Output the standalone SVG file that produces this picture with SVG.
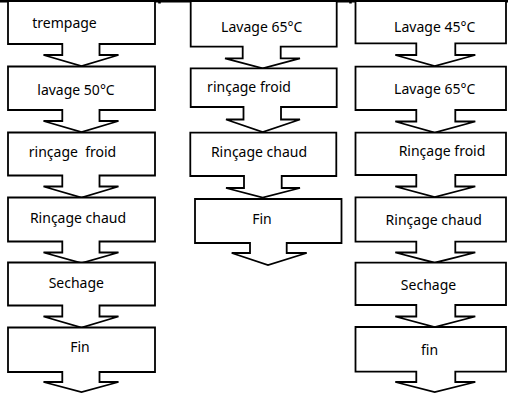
<svg xmlns="http://www.w3.org/2000/svg" width="508" height="393" viewBox="0 0 508 393">
<style>
.box{fill:#fff;stroke:#000;stroke-width:1.8;stroke-linejoin:miter}
.t{font-family:"Noto Sans","Open Sans","DejaVu Sans",sans-serif;font-size:14px;fill:#000;text-anchor:middle;white-space:pre}
.edge{stroke:#000;stroke-width:2.6}
</style>
<rect width="508" height="393" fill="#fff"/>
<g id="connectors">
<line class="edge" x1="0" y1="1.2" x2="508" y2="1.2"/>
<line class="edge" x1="159.5" y1="0" x2="159.5" y2="3.5" stroke-width="1.5"/>
<line class="edge" x1="350.5" y1="0" x2="350.5" y2="3.5" stroke-width="1.5"/>
</g>
<!-- Column 1 -->
<g id="c1n1"><path class="box" d="M8,1 H155 V44 H99.5 V55 H118.5 L81.5,66 L43.5,55 H62.3 V44 H8 Z"/><text class="t" x="64.5" y="28">trempage</text></g>
<g id="c1n2"><path class="box" d="M8,66.5 H155 V110 H99.5 V121 H118.5 L81.5,132 L43.5,121 H62.3 V110 H8 Z"/><text class="t" x="76" y="95">lavage 50°C</text></g>
<g id="c1n3"><path class="box" d="M8,132.5 H155 V175.5 H99.5 V186.5 H118.5 L81.5,197.5 L43.5,186.5 H62.3 V175.5 H8 Z"/><text class="t" x="72.5" y="157">rinçage  froid</text></g>
<g id="c1n4"><path class="box" d="M8,197.5 H155 V241.5 H99.5 V252.5 H118.5 L81.5,263 L43.5,252.5 H62.3 V241.5 H8 Z"/><text class="t" x="78" y="222.5">Rinçage chaud</text></g>
<g id="c1n5"><path class="box" d="M8,262.5 H155 V305.5 H99.5 V316.5 H118.5 L81.5,327.5 L43.5,316.5 H62.3 V305.5 H8 Z"/><text class="t" x="76.3" y="287.5">Sechage</text></g>
<g id="c1n6"><path class="box" d="M8,327.5 H155 V372 H99.5 V382 H118.5 L81.5,392 L43.5,382 H62.3 V372 H8 Z"/><text class="t" x="80" y="352">Fin</text></g>
<!-- Column 2 -->
<g id="c2n1"><path class="box" d="M190.7,1 H336.7 V46.7 H280.7 V58.3 H300 L262.7,68.3 L225,58.3 H242.7 V46.7 H190.7 Z"/><text class="t" x="261.7" y="32">Lavage 65°C</text></g>
<g id="c2n2"><path class="box" d="M190.7,68.3 H336.7 V107 H281 V119.5 H300 L262.7,132 L226,119.5 H243.5 V107 H190.7 Z"/><text class="t" x="249" y="92">rinçage froid</text></g>
<g id="c2n3"><path class="box" d="M190.3,132.7 H336.3 V176 H281.7 V188 H300 L262.7,197.5 L226,188 H244 V176 H190.3 Z"/><text class="t" x="259" y="157">Rinçage chaud</text></g>
<g id="c2n4"><path class="box" d="M195,199 H341.5 V243 H286.7 V253 H306.7 L268,265 L231.7,253 H250 V243 H195 Z"/><text class="t" x="262" y="223.5">Fin</text></g>
<!-- Column 3 -->
<g id="c3n1"><path class="box" d="M355.5,1 H506 V43.3 H455.3 V55 H475.3 L434.7,66 L395.3,55 H416.3 V43.3 H355.5 Z"/><text class="t" x="434.7" y="32">Lavage 45°C</text></g>
<g id="c3n2"><path class="box" d="M355.5,66.7 H506 V110 H455.3 V121.5 H475.3 L434.7,132.5 L395.3,121.5 H416.3 V110 H355.5 Z"/><text class="t" x="434.7" y="94">Lavage 65°C</text></g>
<g id="c3n3"><path class="box" d="M355.5,132.7 H506 V175 H455.3 V186.5 H475.3 L434.7,197 L395.3,186.5 H416.3 V175 H355.5 Z"/><text class="t" x="442" y="156">Rinçage froid</text></g>
<g id="c3n4"><path class="box" d="M355.5,197.3 H506 V241.7 H455.3 V252.5 H475.3 L434.7,262.7 L395.3,252.5 H416.3 V241.7 H355.5 Z"/><text class="t" x="433.7" y="225">Rinçage chaud</text></g>
<g id="c3n5"><path class="box" d="M355.5,262.7 H506 V305 H455.3 V316.5 H475.3 L434.7,327 L395.3,316.5 H416.3 V305 H355.5 Z"/><text class="t" x="428.5" y="290">Sechage</text></g>
<g id="c3n6"><path class="box" d="M355.5,327 H506 V371.7 H455.3 V382 H475.3 L434.7,392 L395.3,382 H416.3 V371.7 H355.5 Z"/><text class="t" x="429.5" y="355">fin</text></g>
</svg>
